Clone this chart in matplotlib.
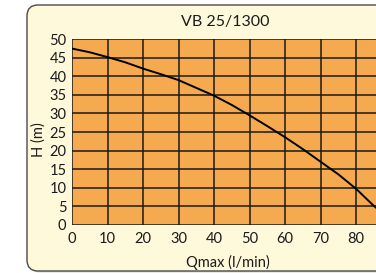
import matplotlib
matplotlib.use("Agg")
import matplotlib.pyplot as plt
from matplotlib.patches import FancyBboxPatch

plt.rcParams['font.family'] = ['Lato', 'DejaVu Sans']

title = "VB 25/1300"
xlabel = "Qmax (l/min)"
ylabel = "H (m)"
q = [0, 5, 10, 15, 20, 25, 30, 35, 40, 45, 50, 55, 60, 65, 70, 75, 80, 85, 87]
h = [47.5, 46.5, 45.2, 43.8, 42.1, 40.6, 39.0, 36.9, 34.8, 32.3, 29.5, 26.6,
     23.6, 20.4, 17.0, 13.6, 9.7, 5.1, 3.5]
xticks = [0, 10, 20, 30, 40, 50, 60, 70, 80]
yticks = [0, 5, 10, 15, 20, 25, 30, 35, 40, 45, 50]

W, H = 376, 273
fig = plt.figure(figsize=(W/100, H/100), dpi=100)
fig.patch.set_facecolor('white')

# card with shadow (display pixel coords, origin bottom-left)
shadow = FancyBboxPatch((28.5, 0.5), 400, 266, boxstyle="round,pad=0,rounding_size=11",
                        transform=None, facecolor='#d5d5d5', edgecolor='none', zorder=0)
card = FancyBboxPatch((27, 2), 400, 266, boxstyle="round,pad=0,rounding_size=11",
                      transform=None, facecolor='#FFF9DB', edgecolor='#4a4a4a', lw=1.0, zorder=1)
fig.patches.extend([shadow, card])

x0, x1 = 72, 72 + 90 * 3.55
ytop, ybot = 39.3, 224.7
ax = fig.add_axes([x0/W, 1 - ybot/H, (x1 - x0)/W, (ybot - ytop)/H])
ax.set_zorder(2)
ax.set_facecolor('#F5AA50')
ax.set_xlim(0, 90)
ax.set_ylim(0, 50)
ax.set_xticks(xticks)
ax.set_yticks(yticks)
ax.grid(True, color='#1a1a1a', lw=1.1)
ax.set_axisbelow(True)
for s in ax.spines.values():
    s.set_visible(False)
ax.tick_params(length=0, labelsize=10.5, colors='#1a1a1a')
ax.tick_params(axis='x', pad=5)
ax.tick_params(axis='y', pad=4)
ax.plot(q, h, color='black', lw=1.4, zorder=3)

fig.text(225/W, 1 - 22/H, title, ha='center', va='center', fontsize=11.5, color='#1a1a1a')
fig.text(39/W, 1 - 140/H, ylabel, ha='center', va='center', rotation=90, fontsize=10.5, color='#1a1a1a')
fig.text(228/W, 1 - 262/H, xlabel, ha='center', va='center', fontsize=10.5, color='#1a1a1a')

fig.savefig("out.png", dpi=100)
